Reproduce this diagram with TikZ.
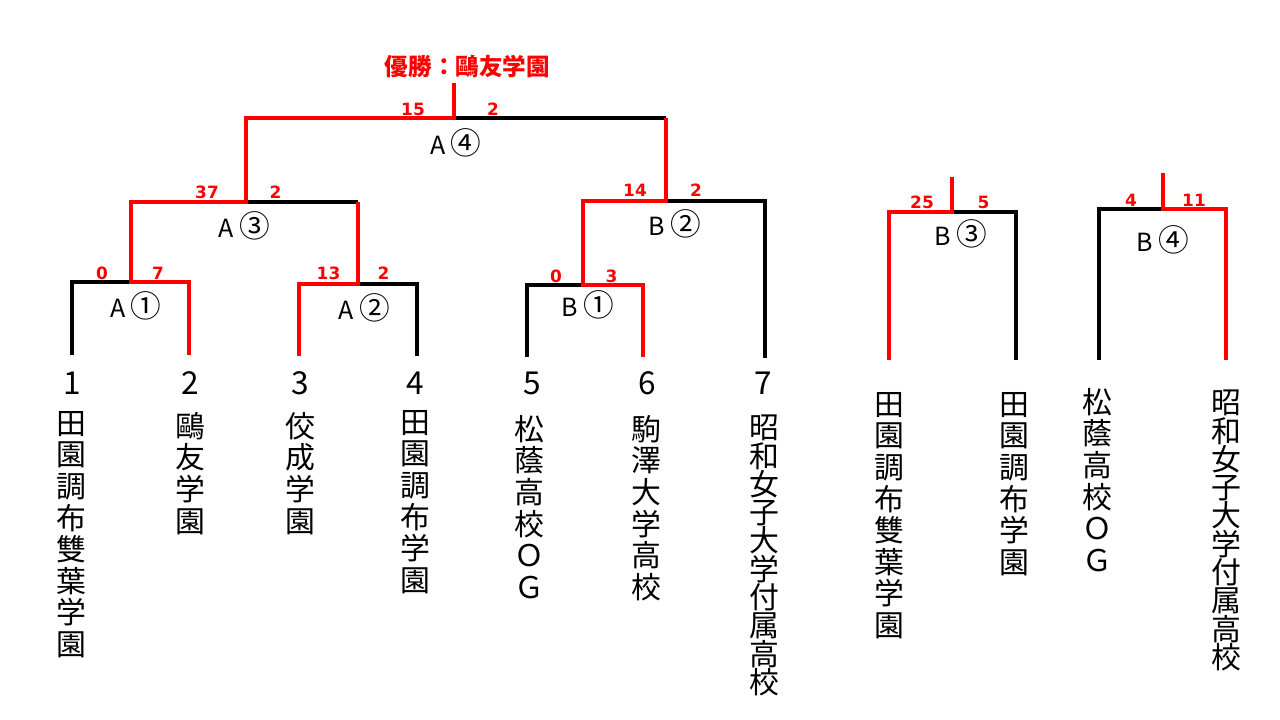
\documentclass[tikz,border=0pt]{standalone}
\usepackage{fontspec}
\setmainfont{Noto Sans CJK JP}
\newfontfamily\scorefont{DejaVu Sans}
\definecolor{wred}{RGB}{255,0,0}
\newcommand\gamelabel[2]{{\fontsize{18.75}{20}\selectfont #1}\hspace{4pt}{\fontsize{23}{24}\selectfont #2}}
\newcommand\tightlines{\lineskiplimit=-100pt\lineskip=0pt\relax}
\tikzset{
  blk/.style={draw=black, line width=2.3pt, line join=miter},
  rd/.style={draw=wred, line width=3pt, line join=miter},
  score/.style={text=wred, font=\scorefont\bfseries\fontsize{12.7}{13}\selectfont, inner sep=0pt},
  team/.style={anchor=north, align=center, inner sep=0pt, font=\fontsize{22.4}{23.7}\selectfont\tightlines},
  longteam/.style={team, font=\fontsize{22.4}{21.2}\selectfont\tightlines},
  seednum/.style={inner sep=0pt, font=\fontsize{23.7}{24}\selectfont},
  game/.style={inner sep=0pt},
  champ/.style={inner sep=0pt, text=wred, font=\bfseries\fontsize{17.7}{18}\selectfont},
}
\begin{document}
\begin{tikzpicture}[x=0.75pt,y=-0.75pt]
\useasboundingbox (0,0) rectangle (1280,720);
\fill[white] (0,0) rectangle (1280,720);
% ---- coordinates ----
% A1
\coordinate (a1Lb) at (72,355);  \coordinate (a1Lt) at (72,282);
\coordinate (a1Rb) at (189,355); \coordinate (a1Rt) at (189,282);
\coordinate (a1m) at (131,282);
% A2
\coordinate (a2Lb) at (299,356); \coordinate (a2Lt) at (299,284);
\coordinate (a2Rb) at (417,356); \coordinate (a2Rt) at (417,284);
\coordinate (a2m) at (358,284);
% A3
\coordinate (a3L) at (131,202); \coordinate (a3R) at (358,202); \coordinate (a3m) at (246,202);
% A4
\coordinate (a4L) at (246,118); \coordinate (a4R) at (666,118); \coordinate (a4m) at (454,118);
\coordinate (a4top) at (454,83);
% B1
\coordinate (b1Lb) at (527,357); \coordinate (b1Lt) at (527,285);
\coordinate (b1Rb) at (643,357); \coordinate (b1Rt) at (643,285);
\coordinate (b1m) at (583,285);
% B2
\coordinate (b2L) at (583,201); \coordinate (b2m) at (666,201);
\coordinate (b2Rt) at (765,201); \coordinate (b2Rb) at (765,358);
% B3
\coordinate (b3Lb) at (889,360); \coordinate (b3Lt) at (889,212);
\coordinate (b3Rb) at (1016,360); \coordinate (b3Rt) at (1016,212);
\coordinate (b3m) at (952,212); \coordinate (b3top) at (952,177);
% B4
\coordinate (b4Lb) at (1099,360); \coordinate (b4Lt) at (1099,209);
\coordinate (b4Rb) at (1226,360); \coordinate (b4Rt) at (1226,209);
\coordinate (b4m) at (1163,209); \coordinate (b4top) at (1163,173);
% ---- black lines ----
\draw[blk] (a1Lb) -- (a1Lt) -- (a1m);
\draw[blk] (a2Rb) -- (a2Rt) -- (a2m);
\draw[blk] (a3m) -- (a3R);
\draw[blk] (a4m) -- (a4R);
\draw[blk] (b1Lb) -- (b1Lt) -- (b1m);
\draw[blk] (b2m) -- (b2Rt) -- (b2Rb);
\draw[blk] (b3m) -- (b3Rt) -- (b3Rb);
\draw[blk] (b4Lb) -- (b4Lt) -- (b4m);
% ---- red lines ----
\draw[rd] (a1Rb) -- (a1Rt) -- (a1m) -- (a3L) -- (a3m) -- (a4L) -- (a4m) -- (a4top);
\draw[rd] (a2Lb) -- (a2Lt) -- (a2m) -- (a3R);
\draw[rd] (b1Rb) -- (b1Rt) -- (b1m) -- (b2L) -- (b2m) -- (a4R);
\draw[rd] (b3Lb) -- (b3Lt) -- (b3m) -- (b3top);
\draw[rd] (b4Rb) -- (b4Rt) -- (b4m) -- (b4top);
% ---- champion ----
\node[champ] (champ) at (467.5,67) {優勝：鷗友学園};
% ---- scores ----
\node[score] (s15) at (413,109.5) {15};
\node[score] (s4r) at (493,109.5) {2};
\node[score] (s37) at (207,192.5) {37};
\node[score] (s3r) at (275.5,192.5) {2};
\node[score] (s1l) at (102,273) {0};
\node[score] (s1r) at (158,273) {7};
\node[score] (s2l) at (328.5,273) {13};
\node[score] (s2r) at (383.5,273) {2};
\node[score] (sb2l) at (635,190) {14};
\node[score] (sb2r) at (696,190) {2};
\node[score] (sb1l) at (556,276) {0};
\node[score] (sb1r) at (611.5,276) {3};
\node[score] (sb3l) at (922,202) {25};
\node[score] (sb3r) at (983.5,202) {5};
\node[score] (sb4l) at (1131,200) {4};
\node[score] (sb4r) at (1194,200) {11};
% ---- game labels ----
\node[game] (gA1) at (136,306) {\gamelabel{A}{①}};
\node[game] (gA2) at (364.5,308) {\gamelabel{A}{②}};
\node[game] (gA3) at (244.5,225.5) {\gamelabel{A}{③}};
\node[game] (gA4) at (456,142.5) {\gamelabel{A}{④}};
\node[game] (gB1) at (588,305) {\gamelabel{B}{①}};
\node[game] (gB2) at (675,224) {\gamelabel{B}{②}};
\node[game] (gB3) at (960.5,234) {\gamelabel{B}{③}};
\node[game] (gB4) at (1163,240) {\gamelabel{B}{④}};
% ---- seed numbers ----
\node[seednum] (n1) at (72,383) {1};
\node[seednum] (n2) at (190,383) {2};
\node[seednum] (n3) at (300,383) {3};
\node[seednum] (n4) at (415,383) {4};
\node[seednum] (n5) at (532,383) {5};
\node[seednum] (n6) at (647,383) {6};
\node[seednum] (n7) at (763,383) {7};
% ---- teams ----
\node[team] (t1) at (71,411) {田\\園\\調\\布\\雙\\葉\\学\\園};
\node[team] (t2) at (190,412) {鷗\\友\\学\\園};
\node[team] (t3) at (300,412) {佼\\成\\学\\園};
\node[team] (t4) at (415,410) {田\\園\\調\\布\\学\\園};
\node[team] (t5) at (529,415) {松\\蔭\\高\\校\\Ｏ\\Ｇ};
\node[team] (t6) at (646,415) {駒\\澤\\大\\学\\高\\校};
\node[longteam] (t7) at (764,415) {昭\\和\\女\\子\\大\\学\\付\\属\\高\\校};
\node[team] (t8) at (889,392) {田\\園\\調\\布\\雙\\葉\\学\\園};
\node[team] (t9) at (1014,392) {田\\園\\調\\布\\学\\園};
\node[team] (t10) at (1097.5,388) {松\\蔭\\高\\校\\Ｏ\\Ｇ};
\node[longteam] (t11) at (1226,390) {昭\\和\\女\\子\\大\\学\\付\\属\\高\\校};
\end{tikzpicture}
\end{document}
